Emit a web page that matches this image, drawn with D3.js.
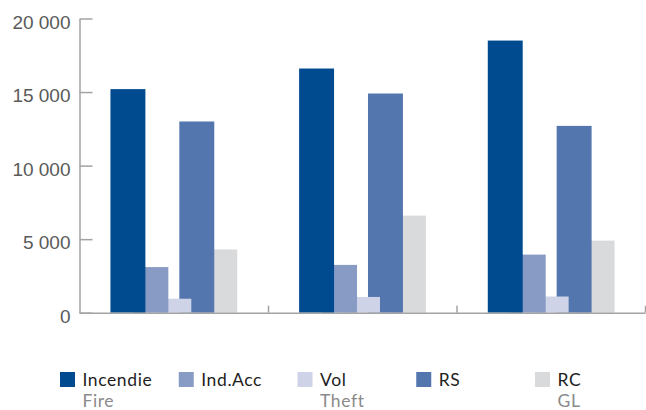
<!DOCTYPE html>
<html>
<head>
<meta charset="utf-8">
<script src="https://cdn.jsdelivr.net/npm/d3@7/dist/d3.min.js"></script>
<style>
  html, body { margin: 0; padding: 0; background: #fff; }
  svg { display: block; font-family: Lato, "Open Sans", sans-serif; }
</style>
</head>
<body>
<svg id="chart" width="646" height="410"></svg>
<script>
// Claims by branch, three periods
const groups = ["P1", "P2", "P3"];
const seriesNames = ["Incendie", "Ind.Acc", "Vol", "RS", "RC"];
const seriesSubtitles = ["Fire", "", "Theft", "", "GL"];
const seriesColors = ["#004b90", "#889bc5", "#ced3e8", "#5476ae", "#d9dadb"];

const incendie = [15200, 16600, 18500];
const indAcc   = [3100, 3250, 3950];
const vol      = [950, 1070, 1100];
const rs       = [13000, 14900, 12700];
const rc       = [4300, 6600, 4900];

const yTicks = [0, 5000, 10000, 15000, 20000];

const seriesValues = [incendie, indAcc, vol, rs, rc];

const svg = d3.select("#chart");
const axisColor = "#a3a3a3";

const plotLeft = 79.5, plotRight = 645.5, plotTop = 18.5, plotBottom = 312.7;

const x0 = d3.scaleBand()
  .domain(groups)
  .range([plotLeft, plotRight])
  .paddingInner(0.328)
  .paddingOuter(0.164);

const y = d3.scaleLinear().domain([0, 20000]).range([plotBottom, plotTop]);

// Bars inside a group overlap: each one is shifted by a fraction of its width
const overlapStep = 0.657;
const barW = x0.bandwidth() / (1 + (seriesNames.length - 1) * overlapStep);
const x1 = d3.scaleLinear()
  .domain([0, seriesNames.length - 1])
  .range([0, (seriesNames.length - 1) * barW * overlapStep]);

// Later series are painted first so earlier ones sit on top
const order = d3.range(seriesNames.length).reverse();
const barLayer = svg.append("g");
order.forEach(si => {
  barLayer.append("g")
    .attr("fill", seriesColors[si])
    .selectAll("rect")
    .data(groups.map((g, gi) => ({ g, v: seriesValues[si][gi] })))
    .join("rect")
    .attr("x", d => x0(d.g) + x1(si))
    .attr("y", d => y(d.v))
    .attr("width", barW)
    .attr("height", d => y(0) - y(d.v));
});

// Y axis, ticks pointing inward
const fmt = d3.formatLocale({ decimal: ",", thousands: " ", grouping: [3], currency: ["", ""] }).format(",d");
const yAxis = svg.append("g")
  .attr("transform", `translate(${plotLeft},0)`)
  .call(d3.axisLeft(y).tickValues(yTicks).tickSizeInner(-13).tickSizeOuter(0).tickPadding(9)
    .tickFormat(d => fmt(d)));
yAxis.select(".domain").attr("stroke", axisColor).attr("stroke-width", 1.5);
yAxis.selectAll(".tick line").attr("stroke", axisColor).attr("stroke-width", 1.5);
yAxis.selectAll(".tick text")
  .attr("fill", "#5a5a5a")
  .attr("font-size", 19)
  .attr("dy", "0.5em");

// X axis: baseline with short upward ticks at group boundaries
const xb = d3.scaleLinear().domain([0, groups.length]).range([plotLeft, plotRight - 0.5]);
const xAxis = svg.append("g")
  .attr("transform", `translate(0,${plotBottom})`)
  .call(d3.axisBottom(xb).tickValues(d3.range(1, groups.length + 1)).tickSizeInner(-7).tickSizeOuter(0).tickFormat(""));
xAxis.select(".domain").attr("stroke", axisColor).attr("stroke-width", 1.5);
xAxis.selectAll(".tick line").attr("stroke", axisColor).attr("stroke-width", 1.5);

// Legend: name with its translation on a second line
const legX = d3.scaleLinear().domain([0, seriesNames.length - 1]).range([60, 535]);
const legend = svg.append("g");
const item = legend.selectAll("g")
  .data(seriesNames.map((n, i) => ({ n, i, sub: seriesSubtitles[i] })))
  .join("g")
  .attr("transform", d => `translate(${legX(d.i)},0)`);
item.append("rect")
  .attr("x", 0).attr("y", 372)
  .attr("width", 15).attr("height", 15)
  .attr("fill", d => seriesColors[d.i]);
item.append("text")
  .attr("x", 22.5).attr("y", 385.5)
  .attr("font-size", 17.5)
  .attr("letter-spacing", 0.6)
  .attr("fill", "#1e1e1e")
  .text(d => d.n);
item.filter(d => d.sub).append("text")
  .attr("x", 22.5).attr("y", 407)
  .attr("font-size", 17.5)
  .attr("letter-spacing", 0.6)
  .attr("fill", "#8a8a8a")
  .text(d => d.sub);
</script>
</body>
</html>
